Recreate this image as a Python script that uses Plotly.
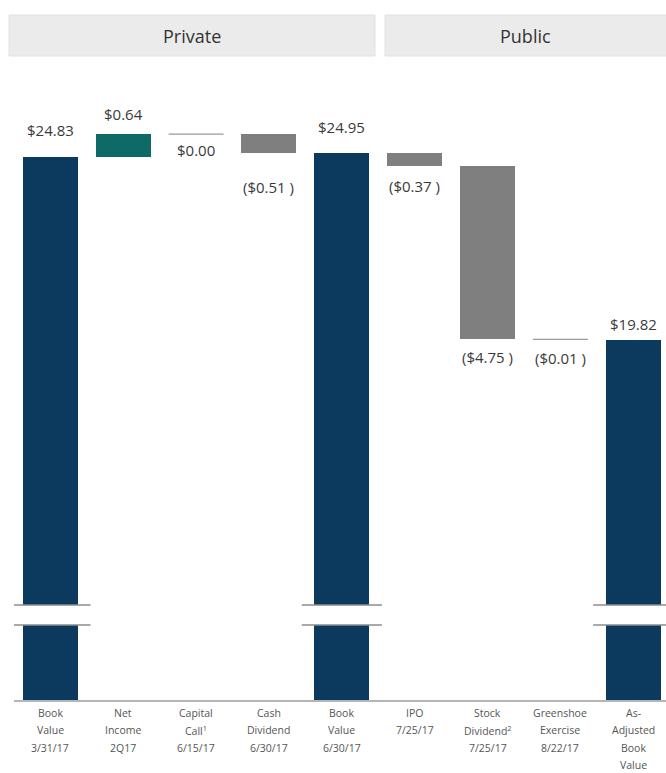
import plotly.graph_objects as go
from plotly.subplots import make_subplots

# ---- data ----
category_lines = [
    ["Book", "Value", "3/31/17"],
    ["Net", "Income", "2Q17"],
    ["Capital", "Call<sup>1</sup>", "6/15/17"],
    ["Cash", "Dividend", "6/30/17"],
    ["Book", "Value", "6/30/17"],
    ["IPO", "7/25/17"],
    ["Stock", "Dividend<sup>2</sup>", "7/25/17"],
    ["Greenshoe", "Exercise", "8/22/17"],
    ["As-", "Adjusted", "Book", "Value"],
]
amounts = [24.83, 0.64, 0.00, -0.51, 24.95, -0.37, -4.75, -0.01, 19.82]
kinds = ["total", "delta", "delta", "delta", "total", "delta", "delta", "delta", "total"]
sections = ["Private", "Public"]

# ---- styling ----
NAVY = "#0b3a5e"
TEAL = "#0d6a66"
GREY = "#7f7f7f"
TEXT = "#3a3a3a"
FONT = "Open Sans"
BAR_W = 0.755

# vertical nudges (px) for value labels
label_shift = [27, 20, -16, -34, 26, -20, -18, -18, 16]

W, H = 666, 773
ML, MR, MT, MB = 14, 0, 80, 73
plot_h = H - MT - MB            # 620
top_lo = (H - MB - 605) / plot_h
bot_hi = (H - MB - 625) / plot_h

fig = make_subplots(rows=2, cols=1, shared_xaxes=True, vertical_spacing=0,
                    row_heights=[0.5, 0.5])

# running waterfall levels
bases, heights, colors = [], [], []
level = 0.0
for amt, kind in zip(amounts, kinds):
    if kind == "total":
        bases.append(0.0)
        heights.append(amt)
        colors.append(NAVY)
        level = amt
    else:
        if amt >= 0:
            bases.append(level)
            heights.append(amt)
            colors.append(TEAL)
        else:
            bases.append(level + amt)
            heights.append(-amt)
            colors.append(GREY)
        level = level + amt

xs = list(range(len(amounts)))
bar_idx = [i for i in xs if kinds[i] == "total" or abs(amounts[i]) >= 0.05]
flat_idx = [i for i in xs if i not in bar_idx]

for row in (1, 2):
    fig.add_trace(go.Bar(
        x=[xs[i] for i in bar_idx],
        y=[heights[i] for i in bar_idx],
        base=[bases[i] for i in bar_idx],
        width=BAR_W,
        marker=dict(color=[colors[i] for i in bar_idx], line=dict(width=0)),
        showlegend=False, hoverinfo="skip",
    ), row=row, col=1)

# near-zero steps drawn as a thin level line
for i in flat_idx:
    lvl = bases[i] + (heights[i] if amounts[i] < 0 else 0)
    fig.add_trace(go.Scatter(
        x=[xs[i] - BAR_W / 2, xs[i] + BAR_W / 2], y=[lvl, lvl],
        mode="lines", line=dict(color="#9a9a9a", width=1.2),
        showlegend=False, hoverinfo="skip",
    ), row=1, col=1)


# value labels
def fmt(v):
    return f"${v:,.2f}" if v >= 0 else f"(${-v:,.2f} )"


for i in xs:
    amt = amounts[i]
    y = bases[i] + heights[i] if amt > 0 else bases[i]
    fig.add_annotation(
        x=xs[i], y=y, xref="x", yref="y", text=fmt(amt), showarrow=False,
        yshift=label_shift[i], yanchor="middle", xanchor="center",
        font=dict(family=FONT, size=15, color=TEXT),
    )

# axis break marks
for i in xs:
    if kinds[i] == "total":
        for yr, yv in (("y domain", 0), ("y2 domain", 1)):
            fig.add_shape(type="line", xref="x", yref=yr,
                          x0=xs[i] - 0.55, x1=xs[i] + 0.55, y0=yv, y1=yv,
                          line=dict(color="#8c8c8c", width=1.5))

# category labels
for i, lines in enumerate(category_lines):
    for j, t in enumerate(lines):
        fig.add_annotation(
            x=xs[i], y=0, xref="x2", yref="y2 domain", text=t, showarrow=False,
            yanchor="middle", xanchor="center", yshift=-(12.5 + 17.6 * j),
            font=dict(family=FONT, size=10.5, color="#555555"),
        )

# section headers
px = lambda p: (p - ML) / (W - ML - MR)
py = lambda p: (H - MB - p) / plot_h
for name, x0, x1 in ((sections[0], 9, 375), (sections[1], 385, 672)):
    fig.add_shape(type="rect", xref="paper", yref="paper",
                  x0=px(x0), x1=px(x1), y0=py(56), y1=py(15),
                  fillcolor="#ebebeb", line=dict(color="#e2e2e2", width=1), layer="below")
    fig.add_annotation(x=px((x0 + min(x1, W)) / 2), y=py(35.5), xref="paper", yref="paper",
                       text=name, showarrow=False, yanchor="middle", xanchor="center",
                       font=dict(family=FONT, size=18, color="#333333"))

px_per = 36.4
top_val = 24.95 + (153 - MT) / px_per
low_val = 24.95 - (605 - 153) / px_per
bot_val = 75 / px_per

fig.update_layout(
    width=W, height=H, margin=dict(l=ML, r=MR, t=MT, b=MB),
    paper_bgcolor="white", plot_bgcolor="white", bargap=0,
    yaxis=dict(domain=[top_lo, 1], range=[low_val, top_val], visible=False),
    yaxis2=dict(domain=[0, bot_hi], range=[0, bot_val], visible=False),
    xaxis=dict(range=[-0.5, 8.45], visible=False),
    xaxis2=dict(range=[-0.5, 8.45], showticklabels=False, ticks="",
                showline=True, linecolor="#b5b5b5", linewidth=1.5,
                showgrid=False, zeroline=False),
)

fig.write_html("out.html")
